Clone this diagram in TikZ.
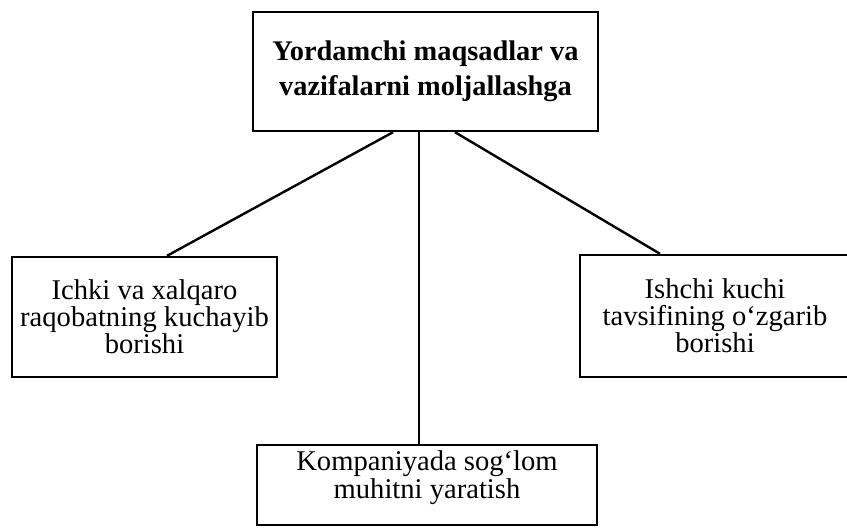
\documentclass[tikz,border=0pt]{standalone}
\usepackage{fontspec}
\setmainfont{Liberation Serif}
\tikzset{
box/.style={ % Sets the properties for each box
draw,
line width=1.2pt,
align=center,
inner sep=0pt,
font=\fontsize{14.3}{13.5}\selectfont},
every edge/.style={ % Sets the properties for each connector
draw,
line width=1.2pt}}
\begin{document}
\begin{tikzpicture}[x=0.5pt, y=-0.5pt]
\useasboundingbox (0,0) rectangle (847,527);
\node[box, font=\fontsize{14.2}{17.5}\selectfont\bfseries, minimum width=172.5pt, minimum height=59.5pt] (goal) at (425.5,71.5) {Yordamchi maqsadlar va\\vazifalarni moljallashga};
\node[box, minimum width=132.5pt, minimum height=60pt] (rivalry) at (144.5,317) {Ichki va xalqaro\\raqobatning kuchayib\\borishi};
\node[box, minimum width=135pt, minimum height=61pt] (labour) at (715,316) {Ishchi kuchi\\tavsifining o`zgarib\\borishi};
\node[box, font=\fontsize{14.3}{14}\selectfont, minimum width=170pt, minimum height=40pt, text depth=10.5pt] (health) at (427,485) {Kompaniyada sog`lom\\muhitni yaratish};
\draw ([xshift=-16.25pt]goal.south) edge ([xshift=11.25pt]rivalry.north);
\draw ([xshift=-3.25pt]goal.south) edge ([xshift=-4pt]health.north);
\draw ([xshift=14.75pt]goal.south) edge ([xshift=-27.5pt]labour.north);
\end{tikzpicture}
\end{document}
